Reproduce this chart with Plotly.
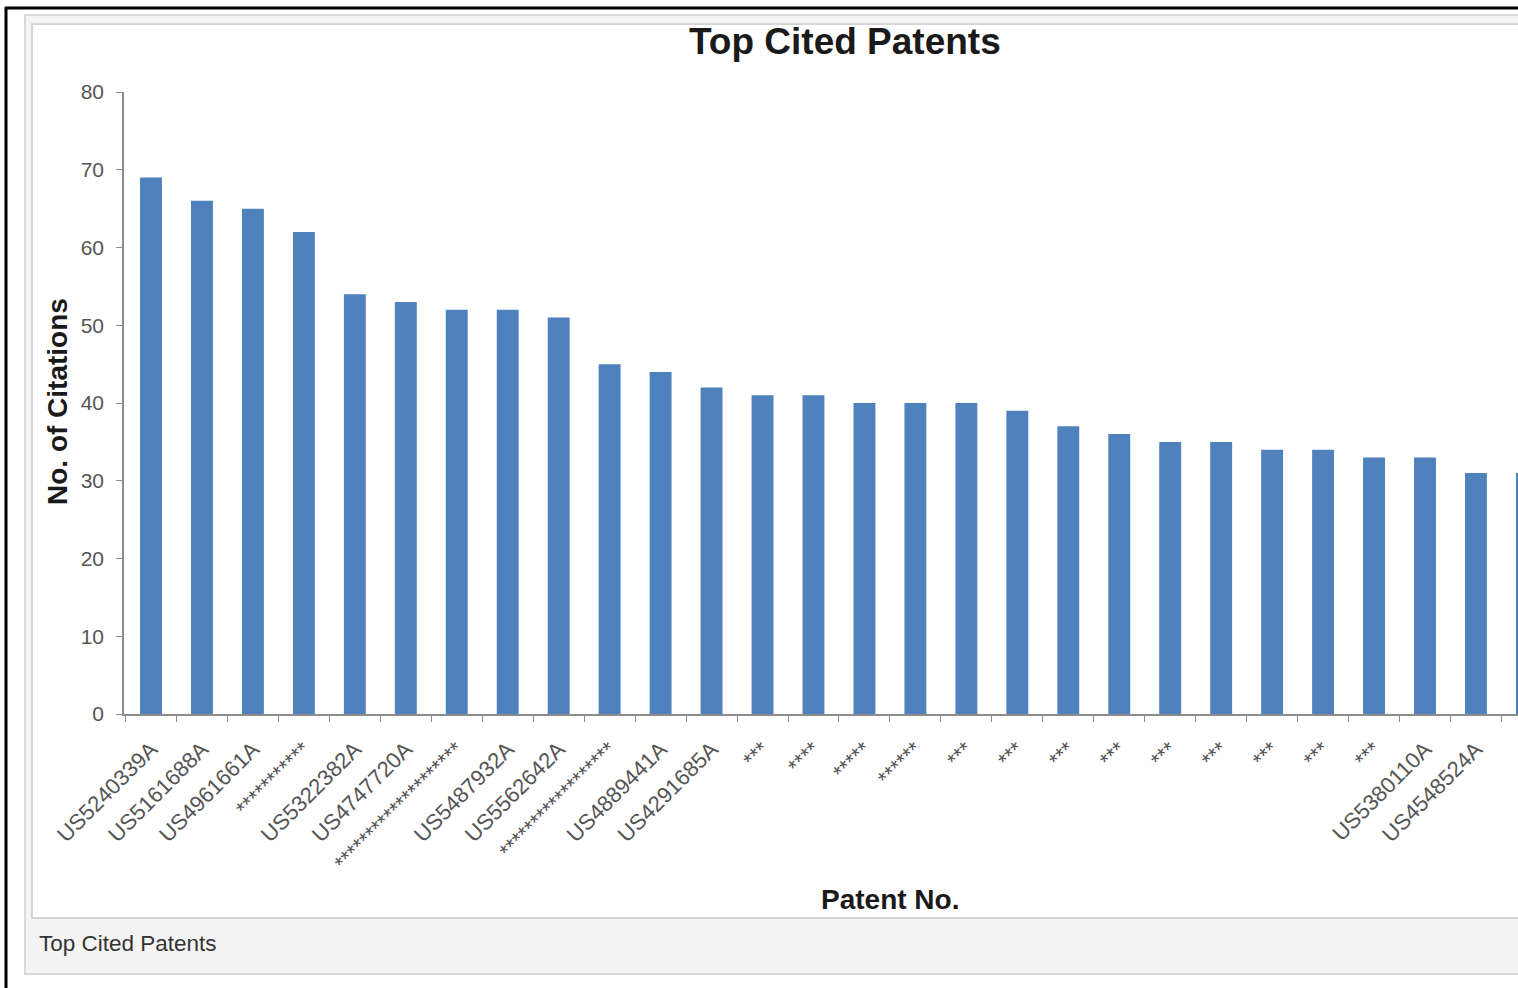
import plotly.graph_objects as go

# ---- data ----
patents = [
    "US5240339A", "US5161688A", "US4961661A", "***********", "US5322382A",
    "US4747720A", "********************", "US5487932A", "US5562642A",
    "******************", "US4889441A", "US4291685A", "***", "****", "*****",
    "******", "***", "***", "***", "***", "***", "***", "***", "***", "***",
    "US5380110A", "US4548524A", "US4869612A",
]
citations = [
    69, 66, 65, 62, 54, 53, 52, 52, 51, 45, 44, 42, 41, 41, 40, 40, 40, 39,
    37, 36, 35, 35, 34, 34, 33, 33, 31, 31,
]
y_ticks = [0, 10, 20, 30, 40, 50, 60, 70, 80]

positions = list(range(len(patents)))

W, H = 1518, 988
L, R, T, B = 124, 1518, 92, 714  # plot area in pixels


def px(xp):
    return (xp - L) / (R - L)


def py(yp):
    return (B - yp) / (B - T)


FONT = "Liberation Sans, Arial, sans-serif"
BAR = "#4f81bd"
AXIS = "#8c8c8c"
TXT = "#555555"

fig = go.Figure(
    go.Bar(
        x=positions,
        y=citations,
        customdata=patents,
        hovertemplate="%{customdata}: %{y}<extra></extra>",
        marker=dict(color=BAR, line=dict(width=0)),
    )
)

spacing = 50.96
r0 = -(151 - L) / spacing
r1 = r0 + (R - L) / spacing

shapes = [
    dict(type="rect", xref="paper", yref="paper", layer="below",
         x0=px(25), x1=px(1540), y0=py(15), y1=py(974),
         fillcolor="#f4f4f4", line=dict(color="#d9d9d9", width=2)),
    dict(type="rect", xref="paper", yref="paper", layer="below",
         x0=px(32), x1=px(1540), y0=py(24), y1=py(918),
         fillcolor="#ffffff", line=dict(color="#d4d4d4", width=2)),
    dict(type="line", xref="paper", yref="paper",
         x0=px(5), x1=px(1540), y0=py(8), y1=py(8),
         line=dict(color="#000000", width=3)),
    dict(type="line", xref="paper", yref="paper",
         x0=px(6), x1=px(6), y0=py(7), y1=py(995),
         line=dict(color="#000000", width=3)),
]

annotations = [
    dict(text="<b>Top Cited Patents</b>", xref="paper", yref="paper",
         x=px(845), y=py(42), xanchor="center", yanchor="middle",
         showarrow=False, font=dict(family=FONT, size=37, color="#1a1a1a")),
    dict(text="<b>No. of Citations</b>", xref="paper", yref="paper",
         x=px(57), y=py(402), xanchor="center", yanchor="middle",
         textangle=-90, showarrow=False,
         font=dict(family=FONT, size=28, color="#1a1a1a")),
    dict(text="<b>Patent No.</b>", xref="paper", yref="paper",
         x=px(890), y=py(900), xanchor="center", yanchor="middle",
         showarrow=False, font=dict(family=FONT, size=28, color="#1a1a1a")),
    dict(text="Top Cited Patents", xref="paper", yref="paper",
         x=px(37), y=py(943), xanchor="left", yanchor="middle",
         showarrow=False, font=dict(family=FONT, size=22.5, color="#333333")),
]

fig.update_layout(
    width=W, height=H, autosize=False,
    margin=dict(l=L, r=W - R, t=T, b=H - B, pad=0),
    paper_bgcolor="#ffffff",
    plot_bgcolor="rgba(0,0,0,0)",
    bargap=0.57,
    showlegend=False,
    shapes=shapes,
    annotations=annotations,
    font=dict(family=FONT, color=TXT),
)

fig.update_xaxes(
    range=[r0, r1],
    tickmode="array", tickvals=positions, ticktext=patents,
    ticks="", tickangle=-45,
    tickfont=dict(family=FONT, size=22, color=TXT),
    ticklabelstandoff=12,
    minor=dict(tick0=0.5, dtick=1, ticks="outside", ticklen=6,
               tickcolor=AXIS, tickwidth=1, showgrid=False),
    showline=True, linecolor=AXIS, linewidth=1.5,
    showgrid=False, zeroline=False,
)

fig.update_yaxes(
    range=[0, 80],
    tickvals=y_ticks,
    showline=True, linecolor=AXIS, linewidth=1.5,
    ticks="outside", ticklen=6, tickcolor=AXIS,
    tickfont=dict(family=FONT, size=21, color=TXT),
    ticklabelstandoff=8,
    showgrid=False, zeroline=False,
)

fig.write_html(
    "out.html",
    config={"displayModeBar": False},
    post_script="document.body.style.margin='0px';",
)
